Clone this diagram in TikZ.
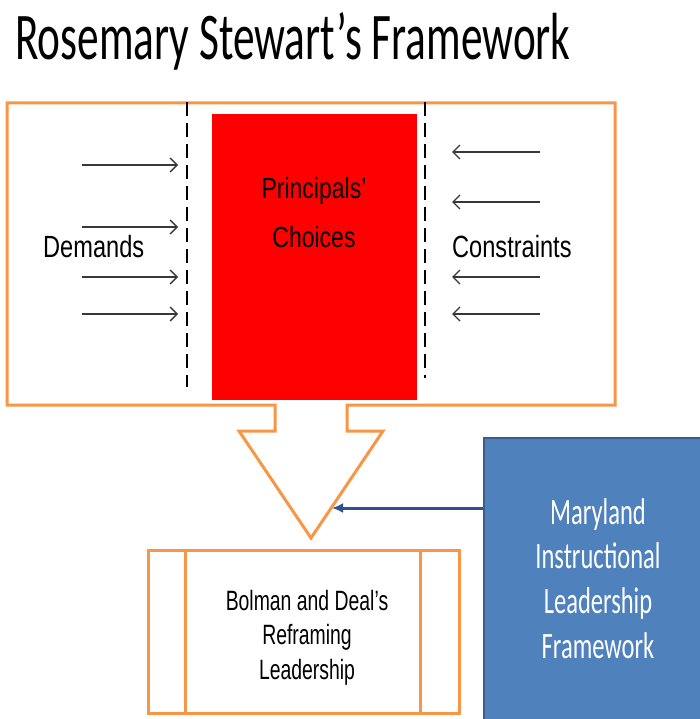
\documentclass[tikz,border=0pt]{standalone}
\usepackage{fontspec}
\usepackage{graphicx}
\setmainfont{Liberation Sans}
\newfontfamily\calibri{Carlito}
\usetikzlibrary{arrows.meta}
\definecolor{frameorange}{HTML}{F79646}
\definecolor{mdblue}{HTML}{4F81BD}
\definecolor{mdedge}{HTML}{385D8A}
\definecolor{linkblue}{HTML}{2F528F}
\definecolor{pushgrey}{HTML}{383838}
\tikzset{
	frame/.style    = {draw=frameorange, line width=3pt, line join=miter},
	divider/.style  = {draw=black, line width=1.6pt, dash pattern=on 14pt off 7pt},
	push/.style     = {draw=pushgrey, line width=1.4pt, -{Straight Barb[length=7pt,width=14pt]}},
	link/.style     = {draw=linkblue, line width=3pt, -{Latex[length=11pt,width=10pt]}},
	word/.style     = {inner sep=0pt, anchor=base}
}
\newcommand{\tall}[2]{\scalebox{1}[#1]{#2}}
\newcommand{\stack}[1]{\begin{tabular}[t]{@{}c@{}}#1\end{tabular}}

\begin{document}
\begin{tikzpicture}[x=1pt, y=1pt]

	\useasboundingbox[fill=white] (0,0) rectangle (700,-719);

	% title
	\node[word, anchor=base west] (title) at (15,-60)
		{\tall{1.54}{\calibri\fontsize{43.3}{50}\selectfont Rosemary Stewart’s Framework}};

	% outer frame with the down arrow
	\draw[frame] (7,-103) -- (615,-103) -- (615,-405) -- (347,-405) -- (347,-431)
		-- (383,-431) -- (311,-538) -- (239,-431) -- (275,-431) -- (275,-405)
		-- (7,-405) -- cycle;

	\node[fill=red, minimum width=205pt, minimum height=286pt, inner sep=0pt,
		anchor=north west] (choice) at (212,-114) {};
	\node[word] (choicetext) at (314,-199)
		{\tall{1.27}{\fontsize{23}{37.8}\selectfont\stack{Principals’\\Choices}}};

	\draw[divider] (187,-102) -- (187,-387);
	\draw[divider] (425,-102) -- (425,-378);

	\node[word, anchor=base west] (demands) at (43,-257)
		{\tall{1.3}{\fontsize{23.6}{28}\selectfont Demands}};
	\node[word, anchor=base west] (constraints) at (452,-257)
		{\tall{1.3}{\fontsize{23.6}{28}\selectfont Constraints}};

	\foreach \y [count=\i] in {165,227,277,314}{
		\coordinate (dm\i) at (82,-\y);
		\coordinate (dmend\i) at (178,-\y);
		\draw[push] (dm\i) -- (dmend\i);
	}
	\foreach \y [count=\i] in {152,202,277,314}{
		\coordinate (cs\i) at (540,-\y);
		\coordinate (csend\i) at (452,-\y);
		\draw[push] (cs\i) -- (csend\i);
	}

	% Bolman and Deal box
	\node[frame, minimum width=311pt, minimum height=163pt, inner sep=0pt,
		anchor=north west] (reframe) at (147,-549) {};
	\draw[frame] (185,-549) -- (185,-712);
	\draw[frame] (420,-549) -- (420,-712);
	\node[word] (reframetext) at (307,-610)
		{\tall{1.44}{\fontsize{19.4}{24.3}\selectfont\stack{Bolman and Deal’s\\Reframing\\Leadership}}};

	% Maryland framework
	\node[fill=mdblue, draw=mdedge, line width=2pt, minimum width=222pt,
		minimum height=286pt, inner sep=0pt, anchor=north west] (mdframe) at (483,-437) {};
	\node[word, text=white] (mdtext) at (598,-524)
		{\tall{1.52}{\calibri\fontsize{24.5}{29.6}\selectfont\stack{Maryland\\Instructional\\Leadership\\Framework}}};

	\coordinate (hit) at (332,-508);
	\draw[link] (mdframe.west |- hit) -- (hit);

\end{tikzpicture}
\end{document}
